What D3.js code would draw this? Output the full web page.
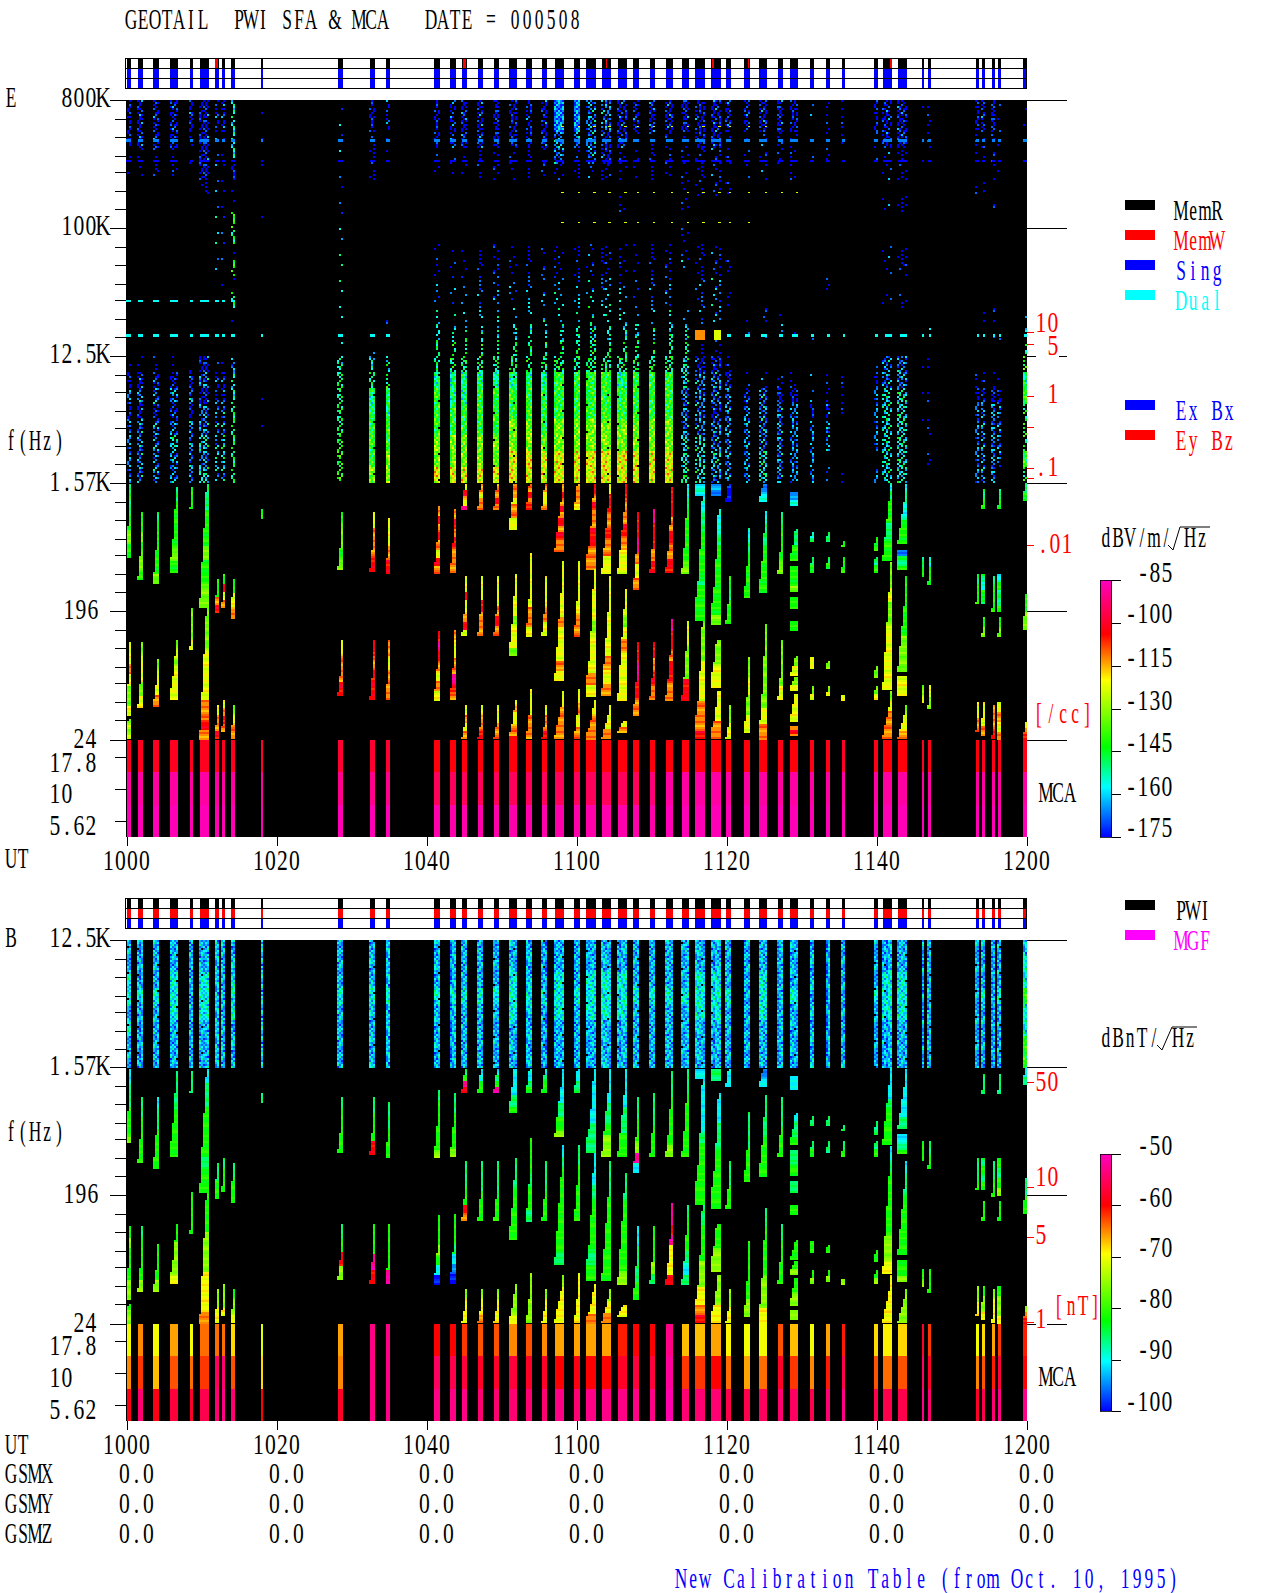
<!DOCTYPE html>
<html>
<head>
<meta charset="utf-8">
<title>GEOTAIL PWI SFA & MCA</title>
<script src="https://cdn.jsdelivr.net/npm/d3@7"></script>
<style>
html, body { margin: 0; padding: 0; background: #fff; }
svg { display: block; }
text { font-family: "Liberation Serif", serif; font-size: 30px; white-space: pre; }
.axis path, .axis line { stroke: #000; shape-rendering: crispEdges; }
rect { shape-rendering: crispEdges; }
</style>
</head>
<body>
<svg id="chart" width="1280" height="1593"></svg>
<script>
// burst times, minutes after 10:00 UT
const burstStart = [0,1.53,3.53,5.8,8.47,9.8,11.8,12.73,13.93,17.93,28.2,32.47,34.6,41,43.13,44.73,46.87,49,51,53.27,55.4,57.13,59.67,61.27,63.4,65.53,67.53,69.8,71.93,74.07,75.8,77.93,79.93,82.33,84.33,86.87,88.47,91.13,93.27,95.4,99.67,100.87,102.87,106.07,106.93,113.27,114.07,115.4,116.2,119.53];
const burstEnd = [0.6,2.2,4.33,6.87,8.87,11,12.33,13.13,14.47,18.2,28.87,33.13,35.13,41.8,43.93,45.4,47.53,49.67,52.07,54.07,56.07,58.33,60.47,62.6,64.6,66.73,68.33,70.47,72.87,75,77.13,79.27,80.6,83.13,85.4,87.53,89.53,91.67,93.8,95.8,100.2,102.07,104.07,106.33,107.2,113.67,114.47,115.8,116.6,120];

// red MemW marks in the E status bar, minutes
const memWriteStart = [11.8,44.93,63.93,78,82.87,101.8];
const memWriteEnd = [12.2,45.2,64.07,78.27,83,102];

const timeTicks = [0,20,40,60,80,100,120];
const timeLabels = ["1000","1020","1040","1100","1120","1140","1200"];

// colour bars
const eColorStops = [-175,-157.5,-143.5,-120,-104,-85];
const bColorStops = [-100,-90.3,-82.5,-69.4,-60,-50];
const rainbow = ["#0000ff","#00ffff","#00ff00","#ffff00","#ff0000","#ff00c0"];
const eBarTicks = [-85,-100,-115,-130,-145,-160,-175];
const bBarTicks = [-50,-60,-70,-80,-90,-100];

// level code 0..9 to dB
const eLevelDb = [-175,-166,-157,-150,-143,-134,-123,-113,-104,-90];
const bLevelDb = [-100,-95,-93,-90,-82,-76,-70,-65,-60,-52];
const bWedgeDb = [-100,-95,-91,-86,-82,-76,-70,-65,-60,-52];

// E panel 800K..1.57K, one character per 1/8 band-step (24 rows):
// digit = dense speckle at that level, A..J = medium, a..j = sparse, . = nothing
const eHigh = [
"AAAaa...........aABABBBB","AAAaa...........aABABBBB","AAAaa...........aABABBBB","AAAaa...........aABABCBB",
"AAaa............aABABBBB","AAAAAa..........ABABBCBC","AAaaaaabbaa.....aAABBBCB","AAaaaaabbb.a....aAABBCCB",
"CCCCAaaEDaEaDa..BCCDDDDD","aaa.a.aa........a.aaa...","bcbcbabbcdedcdcdCDDDDEEE","AAaaa..........cCD334445",
"AAaa.........a.cCD334455","AAAaa....aabbcCDD3444556","AAAaa....aabbcCDD3344556","AAAaa....aabccCDD3344556",
"AAAaa....aabbcCDD3444556","AAAaa....aabbcCDD3444556","AAAaa....aabbcCDD3445566","AAAaa....aabccCDD3445566",
"AAAaa....aabbcCDD3444566","11BBa....aabccCDD4445566","11Baa....aabccCDD4445566","BBBBa....aabccCDD4445566",
"BBAAa....aabccCDD4445566","AAAaa.a..aabccCDD3445566","AAaaa....aabbcCDD4445566","AAaaa....aabbcCDD4445566",
"AAaaa....aabbcCDD4445566","AAaaaaa.aac..cCDCCBBBCCD","AAAaaa...aabbb.aABBBBCCC","AAAaaa...aabbb.aABBABBCB",
"AAaa.a....a.a...aABBBBBB","AAaaa........aa..aABBBBB","AAaaa........aa..aBBBBCC","AAaa.........ab..aABBBBB",
"AAaaa.........a..aABBBBB","a.aa..........a..aaABBBB","aaaa.......a...a.aaABB.b","aaa...........a..aaa...a",
"AAaa..........a.aABBBB.B","AAAaa.a..aa.a...BBCCCCCC","AAAaa.a..aa.a...BBCCCCCC","aa............a.a.a.a...",
"aaa...........c.a.a.a.a.","AAaa.a.......aa..aABBBBB","AAaa.a.......a...aABBBBB","AAaaa.a......aa..aABBBBB",
"aaa.a.........a..aABBBB.","aa...........cCDE34DED4D"];
// share of the burst width filled by each E row, from the right edge
const eRowWidth = [1,1,1,1,1,1,1,1,1,1,1,1,1,.8,.5,.5,1,1,1,1,1,1,1,1];

// B panel 12.5K..1.57K, same code, 8 rows
const bHigh = [
"22332322","22232222","22232222","22333222","22222222","22333222","22222222","22222222",
"22333222","22222222","22232222","22232222","22232222","22232222","22232222","22232222",
"22232222","22232222","22333222","22232222","22232222","22333222","22232222","22333222",
"22333222","22333222","22232222","22232222","22232222","22232222","22333222","22333222",
"22232222","22222222","22333222","22222222","22232222","22222222","22222222","22222222",
"22232222","22333222","22333222","22222222","22222222","22222222","22232222","22222222",
"22232222","23343344"];

// lines at fixed frequency: Hz, level code, first burst, last burst, thickness, share of burst
const lineFreq = [411000,297000,109000,517000,179000,30600,17300,17300,17600,17600];
const lineLevel = ["1","0","6","6","6","2","2","2","7","6"];
const lineFirst = [0,0,21,21,21,0,0,32,30,31];
const lineLast = [49,49,33,34,36,8,12,49,30,31];
const lineThick = [3,2,1,1,1,2,3,3,10,10];
const lineShare = [1,1,.3,.3,.3,1,1,.8,1,.7];

// low band sweeps: burst, top and bottom (steps of 8x below 1.57K), start of taper, E codes, B codes
const wedges = [
[0,.01,.59,.4,"3433445544","2233344445"],[0,1.24,1.82,.4,"6676556","4544455"],[0,1.85,2,.7,"5656","4555"],
[1,.23,.75,0,"4454554","3344444"],[1,1.24,1.75,0,"56656","34445"],
[2,.23,.79,0,"3444445","2334444"],[2,1.38,1.75,0,"5667","4445"],
[3,.03,.7,.1,"3444454","3334444"],[3,1.23,1.7,.1,"5656666","4455556"],
[4,.03,.2,.3,"44","33"],[4,.98,1.3,.3,"5556","444"],
[5,.01,.98,.3,"3344454455","2334444344"],[5,.98,2,.3,"5555666667787","4445556667"],
[6,.75,1.02,.5,"4478","3344"],[6,1.74,2,.3,"6778","5566"],
[7,.71,.98,.6,"4867","3444"],[7,1.7,1.95,.6,"6787","5556"],
[8,.75,1.06,.5,"467","344"],[8,1.74,2,.3,"5677","4556"],
[9,.2,.27,.8,"4","3"],
[10,.23,.67,0,"45545","34444"],[10,1.23,1.66,0,"6778","3485"],
[11,.23,.69,0,"6778","3448"],[11,1.23,1.7,0,"8788","4498"],
[12,.27,.71,0,"6678","3344"],[12,1.23,1.7,0,"7677","4449"],
[13,.18,.7,0,"78787687","3444445"],[13,1.16,1.7,0,"8987676","4445420"],
[14,.2,.7,0,"7878777","3344445"],[14,1.15,1.7,0,"76677987","4443210"],
[15,.01,.2,.5,"68769","3498"],[15,.73,1.2,0,"66866786","3334487"],[15,1.74,2,0,"6767","5666"],
[16,.01,.2,.5,"7677","2244"],[16,.73,1.2,0,"66877","3344"],[16,1.74,2,0,"6778","5667"],
[17,.01,.2,.5,"7787","2349"],[17,.73,1.2,0,"666787","33344"],[17,1.74,2,0,"6677","5666"],
[18,.01,.36,.4,"7767766","2222334"],[18,.71,1.35,.1,"6666656665","33344444"],[18,1.7,2,.1,"6766778","55556"],
[19,.01,.2,.5,"7878","2234"],[19,.55,1.2,0,"66666776","4443443"],[19,1.61,2,0,"6677","5555"],
[20,.01,.2,.5,"7667","2344"],[20,.73,1.2,0,"6676","3344"],[20,1.74,2,0,"6778","5666"],
[21,.01,.54,.1,"7878787877","2222233445"],[21,.61,1.55,.1,"66666766676","2344444443"],[21,1.63,2,0,"677","5666"],
[22,.01,.2,.5,"7776","2233"],[22,.61,1.2,0,"666677","3444"],[22,1.61,2,0,"6767","6666"],
[23,.01,.67,.1,"8787788777","22222333"],[23,.67,1.67,.1,"6666566676","22344434"],[23,1.7,2,0,"677","6667"],
[24,.01,.7,.1,"6887787766","22233455"],[24,.73,1.67,.05,"666666767","3344444"],[24,1.74,2,0,"667","567"],
[25,.01,.7,.05,"8778766","2223344"],[25,.83,1.7,.2,"665676666","33444445"],[25,1.86,1.95,.4,"67","66"],
[26,.23,.83,0,"889767","3344592"],[26,1.24,1.82,0,"8987","2334"],
[27,.2,.7,0,"98878","3344"],[27,1.24,1.7,0,"8787","44453"],
[28,.03,.7,0,"887878","3344445"],[28,1.06,1.7,0,"98878877","99896668"],
[29,.01,.7,.1,"2344445","3344444"],[29,1.08,1.7,.1,"6655588","3444323"],
[30,.01,.09,1,"2","2"],[30,.09,1.08,.2,"22334444434444","2222344444"],[30,1.08,2,.2,"555566667778","3344445556678"],
[31,.01,.1,1,"1","3"],[31,.2,1.1,.2,"2234444445","22334444"],[31,1.23,1.6,.5,"5566","4455"],[31,1.63,2,.3,"66677","55566"],
[32,.01,.15,.6,"00","22"],[32,.73,1.1,.1,"4344","3344"],[32,1.74,2,0,"5566","5566"],
[33,.35,.9,0,"23444","3344"],[33,1.36,1.95,0,"5656","4445"],
[34,.01,.15,.5,"12","12"],[34,.22,.85,.1,"2334444","3344"],[34,1.1,2,.1,"5555567","3444556"],
[35,.23,.7,0,"34445","3344"],[35,1.23,1.7,0,"5556","3444"],
[36,.07,.17,1,"12","2"],[36,.36,.61,.3,"3344","2334"],[36,.65,.85,.9,"4445","3344"],[36,.89,.98,1,"4","3"],[36,1.08,1.16,1,"4","4"],[36,1.35,1.5,.2,"56","44"],[36,1.52,1.62,.5,"56","45"],[36,1.65,1.86,.4,"6","45"],[36,1.9,1.98,1,"787","555"],
[37,.38,.46,.5,"23","3"],[37,.58,.7,.5,"34","34"],[37,1.36,1.45,.7,"6","4"],[37,1.59,1.7,.4,"56","45"],
[38,.38,.45,.5,"3","3"],[38,.58,.67,.3,"34","3"],[38,1.39,1.45,.5,"5","4"],[38,1.59,1.67,.3,"56","45"],
[39,.45,.49,.5,"4","3"],[39,.58,.7,.8,"44","34"],[39,1.66,1.7,1,"6","5"],
[40,.42,.52,.5,"44","3"],[40,.58,.7,.7,"34","34"],[40,1.43,1.52,.6,"55","4"],[40,1.59,1.7,.6,"56","45"],
[41,0,.61,.15,"2344433444","2222344444"],[41,.62,1.61,.15,"5565566666","2344444556"],[41,1.63,2,0,"56777","6666"],
[42,.01,.48,.05,"2322444","22223"],[42,.52,.67,1,"1334","2234"],[42,.73,1.47,.05,"44444555","23344444"],[42,1.51,1.67,1,"666","445"],[42,1.74,2,0,"5667","5555"],
[43,.58,.73,.7,"34","44"],[43,1.58,1.72,.7,"56","45"],
[44,.58,.79,.5,"244","34"],[44,1.58,1.77,.5,"65","44"],
[45,.71,.95,0,"344","334"],[45,1.71,1.95,0,"6677","5566"],
[46,.05,.2,.5,"34","33"],[46,.71,.95,1,"3243","3434"],[46,1.05,1.2,.5,"45","44"],[46,1.71,1.97,.9,"667","4556"],
[47,.73,1.01,.3,"3444","3344"],[47,1.74,2,.3,"7778","5666"],
[48,.05,.2,.5,"34","33"],[48,.71,1.01,1,"24334","4345"],[48,1.05,1.2,.5,"45","44"],[48,1.71,2,1,"6767","4556"],
[49,0,.14,.5,"34","23"],[49,.87,1.14,.3,"45","34"],[49,1.87,2,.3,"678","578"]];

// width of a sweep from top to bottom, share of the burst
const taper = [.14,.18,.24,.3,.38,.46,.56,.66,.78,.9,1];
// thin stripes across a sweep, dB offsets in level steps
const stripes = [0,0,.6,0,-.5,0,.4,.8,0,-.4,0,0,.6];

// MCA channels, dB
const mcaEdges = [24,13.4,7.5,4.19];
const eMcaTop = [-101,-101,-101,-101,-101,-101,-101,-101,-101,-100,-99,-99,-99,-103,-103,-103,-103,-103,-103,-103,-103,-103,-103,-103,-103,-103,-103,-103,-103,-103,-103,-103,-103,-103,-103,-102,-103,-102,-102,-100,-102,-103,-103,-101,-102,-103,-101,-102,-102,-102];
const eMcaMid = [-88,-88,-88,-88,-88,-88,-88,-88,-88,-88,-90,-90,-90,-95,-95,-95,-95,-95,-95,-95,-95,-95,-95,-95,-95,-95,-95,-92,-88,-88,-88,-88,-88,-88,-88,-88,-88,-88,-88,-88,-88,-88,-88,-88,-88,-88,-88,-88,-88,-88];
const eMcaLow = [-86,-86,-86,-86,-86,-86,-86,-86,-86,-86,-86,-86,-86,-87,-87,-87,-87,-87,-87,-87,-87,-87,-87,-87,-87,-87,-87,-87,-86,-86,-86,-86,-86,-86,-86,-86,-86,-86,-86,-86,-86,-86,-86,-86,-86,-86,-86,-86,-86,-86];
const bMcaTop = [-70,-65,-70,-66,-70,-64,-64,-64,-68,-71,-66,-53,-53,-60,-60,-62,-63,-63,-65,-63,-65,-66,-66,-66,-66,-61,-60,-60,-53,-67,-67,-66,-69,-70,-70,-63,-67,-70,-66,-61,-68,-69,-68,-58,-62,-70,-68,-66,-62,-61];
const bMcaMid = [-65,-62,-67,-63,-64,-62,-55,-54,-63,-68,-65,-53,-53,-55,-56,-57,-58,-58,-57,-58,-58,-60,-59,-60,-60,-58,-57,-57,-52,-62,-62,-60,-64,-66,-64,-58,-62,-65,-61,-56,-63,-64,-63,-55,-58,-65,-63,-61,-57,-60];
const bMcaLow = [-59,-54,-59,-57,-58,-56,-54,-53,-54,-60,-58,-53,-53,-53,-53,-53,-54,-54,-54,-54,-54,-53,-54,-53,-53,-53,-53,-53,-51,-54,-54,-54,-56,-56,-55,-54,-55,-56,-54,-53,-56,-56,-56,-53,-54,-58,-56,-54,-53,-53];

// speckle grain: . = gap, _ - = lower, = level, + * = higher
const denseGrain = [
"=+=-*=+_=-+=-","-=_+=--=+*=-=","+=*-=-+_=+=+-","=-+=_=+=-+*=-","_+=-+-=*-=-=+","=*-+=+_=-+=.-","+=-=*-==+_-=+","-_=+-=+=*-=+=","=+=-=_+-=+-*=","*-=+=-=_+=_=-","=+_*-+=-=-+==","-=+_=*.-=+-=_","+*-=+=-_+=*-="];
const mediumGrain = [
"=..+.-=.*..=.",".-=..+.-..=.+","+..=*..=.-...","..-.=.+..=.-=","=.+...-=..+..",".*.-=...+.=.-","-..=.+=...-.=","..=.-..*=.+..","+.-..=.-..=.+",".=..+..=-...=","-.*=..-..+.=."];
const sparseGrain = [
"=.......+....-...",".....-.........=.","..=.......=......",".......+.......-.","+...............=","...-....=........","..........-...+..",".=...............","......*.....=....","-.........+......","....=..........-.","..........=......","..+.....-......=."];
const grainOffset = { "*": 2, "+": 1, "=": 0, "-": -1, "_": -2 };

const eTicksMajor = [800000,100000,12500,1570,196,24];
const bTicksMajor = [12500,1570,196,24];
const minorRatios = [.733,.549,.403,.31,.228,.17];
const mcaTicks = [17.8,10,5.62];
const gsmRows = ["GSMX","GSMY","GSMZ"];
const gsmValues = ["0.0","0.0","0.0","0.0","0.0","0.0","0.0"];

const svg = d3.select("#chart");
const x = d3.scaleLinear().domain([0,120]).range([126.5,1026.5]);
const eColor = d3.scaleLinear().domain(eColorStops).range(rainbow).clamp(true);
const bColor = d3.scaleLinear().domain(bColorStops).range(rainbow).clamp(true);

// the reference font is a fixed 12px cell, tall and narrow
const measure = document.createElement("canvas").getContext("2d");
measure.font = '30px "Liberation Serif"';
function label(str, px, py, color) {
    // numbers fill their cell, words have wide capitals
    const squeeze = /^[-0-9.K ]*$/.test(str) ? 0.72 : 0.58;
    const cell = 12 / squeeze;
    const xs = Array.from(str).map(function (c, i) {
        return (i * cell + (cell - measure.measureText(c).width) / 2).toFixed(1);
    });
    svg.append("text")
        .attr("transform", "translate(" + px + "," + py + ") scale(" + squeeze + ",1)")
        .attr("x", xs.join(" "))
        .attr("fill", color || "#000")
        .text(str);
}
function labelRight(str, right, py, color) { label(str, right - str.length * 12, py, color); }
function labelMid(str, mid, py, color) { label(str, mid - str.length * 6, py, color); }

function lowFreq(u) { return 1570 * Math.pow(8, -u); }

function speckleCells(cells, i, rows, widths, y, topFreq, levelDb, color, step) {
    const x1 = Math.round(x(burstEnd[i]));
    const full = x1 - Math.round(x(burstStart[i]));
    Array.from(rows).forEach(function (code, r) {
        if (code === ".") return;
        let level, grain;
        if (code >= "a") { level = code.charCodeAt(0) - 97; grain = sparseGrain; }
        else if (code >= "A") { level = code.charCodeAt(0) - 65; grain = mediumGrain; }
        else { level = +code; grain = denseGrain; }
        const x0 = x1 - Math.max(2, Math.round(full * (widths ? widths[r] : 1) / 2) * 2);
        const yTop = Math.round(y(topFreq * Math.pow(8, -r / 8)));
        const yBot = Math.round(y(topFreq * Math.pow(8, -(r + 1) / 8)));
        for (let py = yTop; py < yBot; py += 2) {
            for (let px = x0; px < x1; px += 2) {
                const line = grain[(Math.floor(py / 2) + i * 5) % grain.length];
                const g = line[(Math.floor(px / 2) + i * 3) % line.length];
                if (g === ".") continue;
                cells.push({ x: px, y: py, w: 2, h: 2, fill: color(levelDb[level] + grainOffset[g] * step) });
            }
        }
    });
}

function wedgeCells(cells, w, codes, y, levelDb, color, step) {
    const i = w[0];
    const x1 = Math.round(x(burstEnd[i]));
    const full = x1 - Math.round(x(burstStart[i]));
    const yTop = Math.round(y(lowFreq(w[1])));
    const yBot = Math.round(y(lowFreq(w[2])));
    const n = Math.max(1, Math.round((yBot - yTop) / 2));
    d3.range(n).forEach(function (k) {
        const t = w[3] + (1 - w[3]) * (k + 1) / n;
        const width = Math.max(2, Math.round(full * taper[Math.round(t * (taper.length - 1))] / 2) * 2);
        const code = +codes[Math.min(codes.length - 1, Math.floor(k / n * codes.length))];
        const db = levelDb[code] + stripes[(k + i) % stripes.length] * step;
        cells.push({ x: x1 - width, y: yTop + k * 2, w: width, h: 2, fill: color(db) });
    });
}

function drawCells(cells) {
    svg.append("g").selectAll("rect").data(cells).join("rect")
        .attr("x", function (d) { return d.x; })
        .attr("y", function (d) { return d.y; })
        .attr("width", function (d) { return d.w; })
        .attr("height", function (d) { return d.h; })
        .attr("fill", function (d) { return d.fill; });
}

// status bars above each panel
function statusBar(top, rowFills) {
    const rowY = d3.scaleBand().domain([0,1,2]).range([top, top + 30]);
    const g = svg.append("g");
    rowFills.forEach(function (fill, r) {
        g.selectAll(null).data(burstStart).join("rect")
            .attr("x", function (d) { return x(d); })
            .attr("y", rowY(r))
            .attr("width", function (d, i) { return x(burstEnd[i]) - x(d); })
            .attr("height", rowY.bandwidth())
            .attr("fill", fill);
    });
    return g;
}
function statusFrame(top) {
    const g = svg.append("g");
    g.append("rect").attr("x", 125.5).attr("y", top - .5).attr("width", 901).attr("height", 30)
        .attr("fill", "none").attr("stroke", "#000");
    [10,20].forEach(function (d) {
        g.append("line").attr("x1", 126).attr("x2", 1027).attr("y1", top + d - .5).attr("y2", top + d - .5)
            .attr("stroke", "#000").attr("shape-rendering", "crispEdges");
    });
}

function axes(y, mcaY, major, bottom) {
    svg.append("g").attr("class", "axis").attr("transform", "translate(126,0)")
        .call(d3.axisLeft(y).tickValues(major).tickSize(16).tickFormat(""))
        .call(function (g) { g.select(".domain").remove(); });
    const minors = [];
    major.slice(0, -1).forEach(function (m) {
        minorRatios.forEach(function (r) { minors.push(m * r); });
    });
    svg.append("g").attr("class", "axis").attr("transform", "translate(126,0)")
        .call(d3.axisLeft(y).tickValues(minors).tickSize(11).tickFormat(""))
        .call(function (g) { g.select(".domain").remove(); });
    svg.append("g").attr("class", "axis").attr("transform", "translate(126,0)")
        .call(d3.axisLeft(mcaY).tickValues(mcaTicks).tickSize(11).tickFormat(""))
        .call(function (g) { g.select(".domain").remove(); });
    svg.append("g").attr("class", "axis").attr("transform", "translate(1027,0)")
        .call(d3.axisRight(y).tickValues(major).tickSize(40).tickFormat(""))
        .call(function (g) { g.select(".domain").remove(); });
    svg.append("g").attr("class", "axis").attr("transform", "translate(0," + bottom + ")")
        .call(d3.axisBottom(x).tickValues(timeTicks).tickSize(9).tickFormat(""))
        .call(function (g) { g.select(".domain").remove(); });
    timeTicks.forEach(function (t, i) { labelMid(timeLabels[i], x(t), bottom + 33); });
}

function colorBar(color, stops, ticks, top, bottom, baselines) {
    const db = d3.scaleLinear().domain([stops[0], stops[stops.length - 1]]).range([bottom, top]);
    const g = svg.append("g");
    g.selectAll("rect").data(d3.range(top, bottom)).join("rect")
        .attr("x", 1100).attr("y", function (d) { return d; })
        .attr("width", 12).attr("height", 1)
        .attr("fill", function (d) { return color(db.invert(d + .5)); });
    g.append("rect").attr("x", 1100.5).attr("y", top + .5).attr("width", 11).attr("height", bottom - top)
        .attr("fill", "none").attr("stroke", "#000").attr("stroke-width", .8);
    svg.append("g").attr("class", "axis").attr("transform", "translate(1112,0)")
        .call(d3.axisRight(db).tickValues(ticks).tickSize(9).tickFormat(""))
        .call(function (g) { g.select(".domain").remove(); });
    ticks.forEach(function (t, i) { labelRight(String(t), 1173, baselines[i]); });
}

function redTicks(ys) {
    ys.forEach(function (d) {
        svg.append("line").attr("x1", 1027).attr("x2", 1034).attr("y1", d + .5).attr("y2", d + .5)
            .attr("stroke", "#ff0000").attr("shape-rendering", "crispEdges");
    });
}

function legendSwatch(top, fill) {
    svg.append("rect").attr("x", 1125).attr("y", top).attr("width", 30).attr("height", 10).attr("fill", fill);
}

function radical(pts) {
    svg.append("path").attr("d", d3.line()(pts)).attr("fill", "none").attr("stroke", "#000");
}

/* ---------- E panel ---------- */
const yE = d3.scaleLog().domain([800000,24]).range([100,740]);
const mcaE = d3.scaleLog().domain([24,4.19]).range([740,837]);

svg.append("rect").attr("x", 126).attr("y", 100).attr("width", 901).attr("height", 737).attr("fill", "#000");

const eCells = [];
burstStart.forEach(function (d, i) {
    speckleCells(eCells, i, eHigh[i], eRowWidth, yE, 800000, eLevelDb, eColor, 7);
});
lineFreq.forEach(function (f, k) {
    d3.range(lineFirst[k], lineLast[k] + 1).forEach(function (i) {
        const x1 = Math.round(x(burstEnd[i]));
        const w = Math.max(2, Math.round((x1 - x(burstStart[i])) * lineShare[k]));
        eCells.push({ x: x1 - w, y: Math.round(yE(f) - lineThick[k] / 2), w: w, h: lineThick[k], fill: eColor(eLevelDb[+lineLevel[k]]) });
    });
});
wedges.forEach(function (w) { wedgeCells(eCells, w, w[4], yE, eLevelDb, eColor, 7); });
burstStart.forEach(function (d, i) {
    [eMcaTop, eMcaMid, eMcaLow].forEach(function (row, c) {
        eCells.push({ x: Math.round(x(d)), y: Math.round(mcaE(mcaEdges[c])), w: Math.round(x(burstEnd[i])) - Math.round(x(d)), h: Math.round(mcaE(mcaEdges[c + 1])) - Math.round(mcaE(mcaEdges[c])), fill: eColor(row[i]) });
    });
});
drawCells(eCells);

statusBar(59, ["#000000","#0000ff","#0000ff"])
    .selectAll(null).data(memWriteStart).join("rect")
    .attr("x", function (d) { return x(d); })
    .attr("y", 59)
    .attr("width", function (d, i) { return x(memWriteEnd[i]) - x(d); })
    .attr("height", 10)
    .attr("fill", "#ff0000");
statusFrame(59);
axes(yE, mcaE, eTicksMajor, 837);

label("GEOTAIL  PWI SFA & MCA   DATE = 000508", 125, 29);
label("E", 5, 107);
[["800K",109,107],["100K",109,235],["12.5K",109,363],["1.57K",109,491],["196",99,619],["24",97,748],["17.8",97,772],["10",73,803],["5.62",97,835]].forEach(function (d) {
    labelRight(d[0], d[1], d[2]);
});
label("f(Hz)", 5, 450);
label("UT", 5, 868);

// white gap behind the red 5 on the 12.5K line
svg.append("rect").attr("x", 1036).attr("y", 350).attr("width", 23).attr("height", 10).attr("fill", "#fff");
redTicks([332,344,396,427,468,478,545]);
label("10", 1035, 332, "#ff0000");
label("5", 1047, 355, "#ff0000");
label("1", 1047, 403, "#ff0000");
label(".1", 1035, 476, "#ff0000");
label(".01", 1037, 553, "#ff0000");
label("[/cc]", 1033, 723, "#ff0000");
label("MCA", 1040, 802);

[[200,"#000000","MemR",220],[230,"#ff0000","MemW",250],[260,"#0000ff","Sing",280],[290,"#00ffff","Dual",310],[400,"#0000ff","Ex Bx",420],[430,"#ff0000","Ey Bz",450],[900,"#000000","PWI",920],[930,"#ff00ff","MGF",950]].forEach(function (d) {
    legendSwatch(d[0], d[1]);
    label(d[2], 1175, d[3], d[1]);
});

label("dBV/m/", 1100, 547);
label("Hz", 1184, 547);
radical([[1168,545],[1173,550],[1180,527],[1210,527]]);
colorBar(eColor, [-175,-85], eBarTicks, 580, 837, [582,623,667,710,752,796,837]);

/* ---------- B panel ---------- */
const yB = d3.scaleLog().domain([12500,24]).range([940,1324]);
const mcaB = d3.scaleLog().domain([24,4.19]).range([1324,1421]);

svg.append("rect").attr("x", 126).attr("y", 940).attr("width", 901).attr("height", 481).attr("fill", "#000");

const bCells = [];
burstStart.forEach(function (d, i) {
    speckleCells(bCells, i, bHigh[i], null, yB, 12500, bLevelDb, bColor, 3);
});
wedges.forEach(function (w) { wedgeCells(bCells, w, w[5], yB, bWedgeDb, bColor, 3); });
burstStart.forEach(function (d, i) {
    [bMcaTop, bMcaMid, bMcaLow].forEach(function (row, c) {
        bCells.push({ x: Math.round(x(d)), y: Math.round(mcaB(mcaEdges[c])), w: Math.round(x(burstEnd[i])) - Math.round(x(d)), h: Math.round(mcaB(mcaEdges[c + 1])) - Math.round(mcaB(mcaEdges[c])), fill: bColor(row[i]) });
    });
});
drawCells(bCells);

statusBar(899, ["#000000","#ff0000","#0000ff"]);
statusFrame(899);
axes(yB, mcaB, bTicksMajor, 1421);

label("B", 5, 947);
[["12.5K",109,947],["1.57K",109,1075],["196",99,1203],["24",97,1332],["17.8",97,1355],["10",73,1387],["5.62",97,1419]].forEach(function (d) {
    labelRight(d[0], d[1], d[2]);
});
label("f(Hz)", 5, 1141);
label("UT", 5, 1454);

svg.append("rect").attr("x", 1036).attr("y", 1318).attr("width", 11).attr("height", 12).attr("fill", "#fff");
redTicks([1082,1187,1237,1322]);
label("50", 1035, 1091, "#ff0000");
label("10", 1035, 1186, "#ff0000");
label("5", 1035, 1244, "#ff0000");
label("1", 1035, 1328, "#ff0000");
label("[nT]", 1053, 1315, "#ff0000");
label("MCA", 1040, 1386);

label("dBnT/", 1100, 1047);
label("Hz", 1172, 1047);
radical([[1157,1045],[1162,1050],[1172,1027],[1197,1027]]);
colorBar(bColor, [-100,-50], bBarTicks, 1154, 1411, [1155,1207,1257,1308,1359,1411]);

gsmRows.forEach(function (name, r) {
    const base = [1483,1513,1543][r];
    label(name, 5, base);
    gsmValues.forEach(function (v, i) { labelMid(v, x(timeTicks[i]) + 10, base); });
});

label("New Calibration Table (from Oct. 10, 1995)", 675, 1588, "#0000ff");
</script>
</body>
</html>
